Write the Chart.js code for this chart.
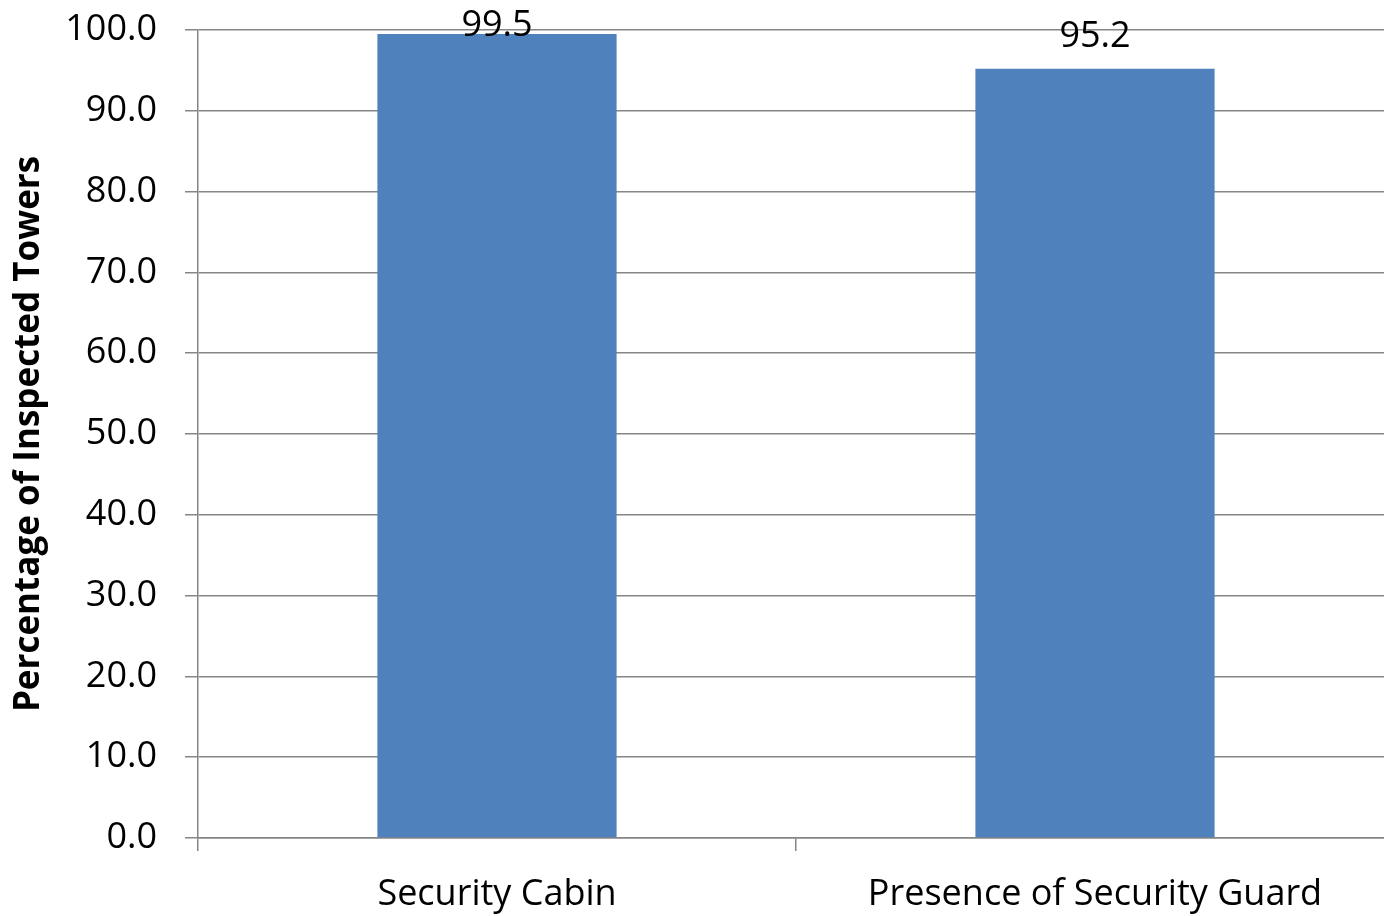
<!DOCTYPE html>
<html>
<head>
<meta charset="utf-8">
<script src="https://cdn.jsdelivr.net/npm/chart.js@4/dist/chart.umd.min.js"></script>
<style>
  html, body { margin: 0; padding: 0; background: #fff; overflow: hidden; }
  #wrap { position: relative; width: 1396px; height: 916px; }
</style>
</head>
<body>
<div id="wrap"><canvas id="c" width="1396" height="916"></canvas></div>
<script>
const categories = ["Security Cabin", "Presence of Security Guard"];
const values = [99.5, 95.2];
const yTicks = [0, 10, 20, 30, 40, 50, 60, 70, 80, 90, 100];
const yTitle = "Percentage of Inspected Towers";

const FONT = "'Open Sans', 'Noto Sans', sans-serif";

const valueLabels = {
  id: 'valueLabels',
  afterDatasetsDraw(chart) {
    const ctx = chart.ctx;
    const meta = chart.getDatasetMeta(0);
    ctx.save();
    ctx.font = "36px " + FONT;
    ctx.fillStyle = "#000";
    ctx.textAlign = "center";
    ctx.textBaseline = "alphabetic";
    meta.data.forEach((bar, i) => {
      const y = Math.max(bar.y - 22, 36);
      ctx.fillText(values[i].toFixed(1), bar.x, y);
    });
    ctx.restore();
  }
};

new Chart(document.getElementById('c'), {
  type: 'bar',
  data: {
    labels: categories,
    datasets: [{
      data: values,
      backgroundColor: '#4F81BD',
      borderWidth: 0,
      barPercentage: 0.4,
      categoryPercentage: 1.0
    }]
  },
  options: {
    responsive: false,
    animation: false,
    layout: { padding: { top: 30, right: 2, left: 0, bottom: 0 } },
    plugins: { legend: { display: false }, tooltip: { enabled: false } },
    scales: {
      x: {
        grid: { offset: true, drawOnChartArea: false, drawTicks: true, tickLength: 13, color: '#868686', lineWidth: 1.5 },
        border: { display: true, color: '#868686', width: 1.5 },
        ticks: { font: { family: FONT, size: 36 }, color: '#000', padding: 22, maxRotation: 0 },
        afterFit(scale) { scale.height = 78; scale.paddingLeft = 0; scale.paddingRight = 0; }
      },
      y: {
        min: 0, max: 100,
        afterBuildTicks(scale) { scale.ticks = yTicks.map(v => ({ value: v })); },
        grid: { color: '#868686', lineWidth: 1.5, tickLength: 13, drawTicks: true },
        border: { display: true, color: '#868686', width: 1.5 },
        ticks: {
          font: { family: FONT, size: 36 }, color: '#000', padding: 28,
          callback: (v) => Number(v).toFixed(1)
        },
        title: {
          display: true, text: yTitle, color: '#000',
          font: { family: FONT, size: 35, weight: 'bold' },
          padding: { top: 8, bottom: 0 }
        },
        afterFit(scale) { scale.width = 198; scale.paddingTop = 0; scale.paddingBottom = 0; }
      }
    }
  },
  plugins: [valueLabels]
});
</script>
</body>
</html>
